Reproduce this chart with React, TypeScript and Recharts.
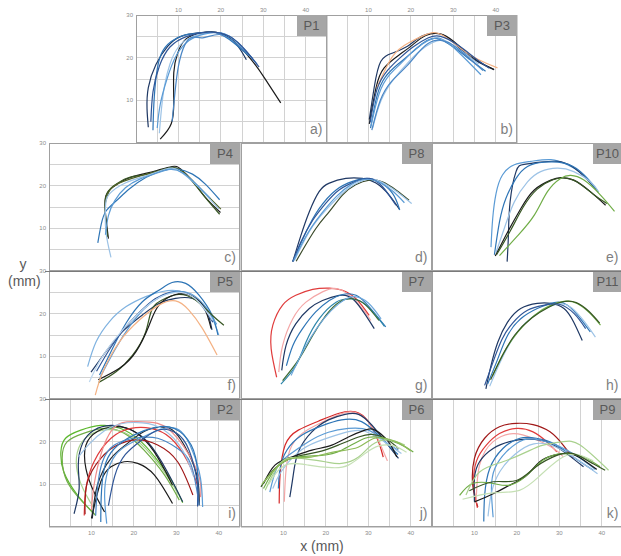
import { CartesianGrid, Line, LineChart, XAxis, YAxis } from 'recharts';

type Pt = [number, number];

const NAVY = '#1f3864';
const BLACK = '#1b1b1b';
const DBLUE = '#2f5597';
const BLUE = '#2e75b6';
const MBLUE = '#5b9bd5';
const LBLUE = '#9dc3e6';
const PBLUE = '#bdd7ee';
const DGREEN = '#375623';
const GREEN = '#70ad47';
const LGREEN = '#a9d18e';
const PGREEN = '#c5e0b4';
const RED = '#e03c3c';
const DRED = '#a01818';
const PINK = '#f4a6a6';
const SALMON = '#f4b183';

// P1
const p1Curves: Pt[][] = [
  [[2.9, 3.7], [2.6, 8], [2.9, 13], [4.7, 18.4], [7.5, 22.7], [10.6, 25], [14.6, 25.8], [17.7, 26], [20.9, 25.4], [24, 22.7], [26, 19.5]],
  [[5.7, 0.9], [8.3, 4.5], [8.9, 10], [8.9, 16.5], [9.8, 21], [11.8, 24.4], [15.4, 25.8], [18.5, 26], [22.4, 24.4], [27.2, 19.5], [30.3, 15.2], [34.1, 9.4]],
  [[4, 3], [4.2, 9], [4.8, 16], [6, 21], [8.3, 23.8], [11.4, 25.3], [15, 25.8], [19, 25.8], [23, 23.5], [26.5, 20.5]],
  [[5.5, 2.3], [6, 8], [6.7, 13.3], [8, 18.5], [10, 22.5], [13, 24.8], [17, 25.8], [21, 25.5], [25, 22.5], [28, 19]],
  [[5, 3.5], [5.7, 9], [7.3, 15], [9.5, 20.5], [12.5, 24], [16, 25.5], [20, 25.8], [24, 23.5], [28.5, 18.5]],
  [[8.5, 5], [9.2, 12], [10, 18], [11.5, 23], [13.5, 24.8], [16, 24.7], [20, 25.4], [24, 23], [27.5, 19.8]],
  [[3.5, 5], [4, 12], [5.5, 18], [8, 22.5], [12, 25], [17, 26], [22, 25], [26, 21.5], [29, 17.8]],
];
const p1Colors = [NAVY, BLACK, BLUE, LBLUE, MBLUE, '#4a86c5', DBLUE];

// P3
const p3Curves: Pt[][] = [
  [[10.2, 5.5], [11.4, 13.3], [12.9, 19.1], [15.7, 21.1], [19.2, 22.7], [21.2, 24.2], [23.5, 25.4], [26.7, 25.6], [29.8, 23.8], [33.7, 20.3], [39.6, 17.2]],
  [[10.2, 4.5], [11.8, 13], [13.7, 17.6], [17.3, 20.7], [20.4, 23], [23.5, 25.2], [27.5, 25.4], [31.4, 22.7], [35.3, 19.5], [39.6, 17.2]],
  [[12, 13], [15.7, 20.3], [19.5, 23.5], [23.5, 25.4], [27, 25.5], [32, 22], [36, 19.5], [40.4, 17.6]],
  [[10.5, 3.5], [12, 11], [14, 15.5], [17, 18.5], [20, 21], [23, 23.5], [26, 24.5], [30, 22.5], [34, 19.5], [37.6, 16.8]],
  [[10.6, 4], [12.5, 11.5], [15, 16], [18, 19], [21, 22], [24, 24], [27, 24.5], [31, 21.5], [36.5, 16]],
  [[11, 3.5], [13, 10], [16, 15], [19, 18.5], [22, 21.5], [25, 23.5], [28, 24], [32, 21.5], [36, 18.5]],
  [[10.4, 4.8], [12, 12.5], [14.5, 17], [17.5, 20], [20.5, 22.5], [24, 24.6], [27, 25], [31, 23], [35, 20], [38.5, 17.5]],
  [[10.8, 3], [12.8, 10], [15.5, 14.5], [19, 18], [22.5, 22], [25.5, 24], [29, 23.5], [33, 20.5], [37, 17]],
];
const p3Colors = [NAVY, BLACK, SALMON, BLUE, MBLUE, LBLUE, DBLUE, '#4a86c5'];

// P4
const p4Curves: Pt[][] = [
  [[14, 7.6], [13.4, 12.5], [13.3, 17.2], [15, 19.6], [18.1, 21.5], [22, 22.7], [25.2, 23.5], [29, 24.5], [31, 23.9], [33.8, 21.1], [36.9, 17.2], [40.4, 13.7]],
  [[13.8, 8], [13.3, 13], [13.4, 17.5], [15.2, 19.9], [18.5, 21.8], [22.2, 22.5], [25.5, 23.4], [28.8, 24.3], [31.2, 23.5], [34.2, 20.5], [37, 17], [40.2, 13.3]],
  [[13.3, 16], [14.5, 19.2], [17.5, 21], [21.5, 22.3], [25, 23.2], [28.5, 24.1], [31, 23.7], [34, 21], [37.2, 17.8], [40.5, 14.5]],
  [[11.5, 6.6], [12.3, 10.9], [13.4, 14], [15.8, 16.4], [18.9, 19.2], [22.8, 21.9], [26.7, 23.5], [30.2, 23.9], [33.8, 22.7], [36.9, 20.3], [40.2, 16.7]],
  [[14.6, 3.2], [13.4, 9.3], [13.3, 14.8], [14.2, 18], [18.1, 20.7], [22.8, 22.3], [27.5, 23.9], [30.6, 23.5], [35.3, 19.6], [40, 14.5]],
  [[13.3, 8.5], [14, 13], [15.5, 16.5], [18, 19.5], [21.5, 21.6], [25, 22.8], [28.5, 23.8], [31.5, 23], [34.5, 20.5], [38, 17]],
];
const p4Colors = [BLACK, DGREEN, '#4f6228', BLUE, LBLUE, MBLUE];

// P8
const p8Curves: Pt[][] = [
  [[12.2, 2.2], [14.1, 8.3], [16.1, 13.9], [18.4, 18.6], [20.8, 20.6], [24.7, 21.7], [28.6, 21.7], [31.8, 20.6], [34.9, 17.8], [37.3, 14.5]],
  [[12.2, 2.2], [15.3, 9.1], [18.4, 14.6], [22.4, 19], [26.3, 21], [29.4, 21.7], [32.5, 20.9], [35.7, 18.2], [37.4, 14.3]],
  [[13, 2.3], [17.6, 9.9], [20.8, 13.9], [23.9, 17.8], [27, 20.2], [30.2, 21.3], [33.3, 20.9], [36.5, 19], [39.6, 16.6]],
  [[12.6, 2.5], [16.9, 10.5], [21.6, 16], [25.5, 19.5], [30.2, 21.5], [34, 20.4], [37, 18.4], [40.2, 15.8]],
  [[12.2, 2.2], [14.1, 6.8], [16.9, 11.9], [20, 15.9], [23.1, 19], [27, 21], [30.2, 21.7], [33.3, 19.8], [36.5, 15.4]],
  [[12.4, 2.4], [15.5, 8.5], [19, 13.5], [22.5, 17.5], [26, 20.3], [29.5, 21.5], [33, 20.6], [36, 18.5], [38.5, 16]],
];
const p8Colors = [NAVY, BLUE, '#3a4a2a', LBLUE, DBLUE, MBLUE];

// P10
const p10Curves: Pt[][] = [
  [[13.9, 5.6], [14.3, 12.3], [15.1, 18.2], [16.6, 22.5], [19.4, 24.9], [23.3, 25.7], [28, 26.1], [31.9, 24.9], [35.8, 22.5], [38.9, 19]],
  [[17.7, 2.2], [18, 8.3], [18.4, 16.2], [19.8, 23.3], [21.7, 25], [25.6, 25.5], [29.5, 25.7], [33, 24.5], [36.5, 21.5], [39.2, 18.5]],
  [[14.7, 3.8], [15.9, 11.5], [17.4, 17], [19.8, 21.7], [22.5, 24.5], [26.4, 25.5], [31.1, 25.3], [35, 23.3], [38.5, 19.4]],
  [[15.1, 4.4], [17, 9.9], [19.4, 16.2], [22.5, 20.9], [25.6, 23.3], [29.5, 24.1], [33.4, 23.3], [37.3, 20.9], [39.3, 18.5]],
  [[14.9, 3.5], [17.8, 9.1], [20.9, 14.6], [24.1, 19], [28, 21.3], [30.3, 21.9], [33.4, 21.3], [37.3, 18.6], [40.9, 15.4]],
  [[15.2, 3.8], [18.5, 9.5], [21.5, 15], [24.8, 19.2], [28.5, 21.4], [31, 21.8], [34, 21], [38, 18], [41.2, 15.8]],
  [[15.9, 3.6], [20.2, 8.3], [24.1, 13.1], [27.2, 18.6], [30.3, 21.7], [32.7, 22.4], [35.8, 21.3], [39.7, 17.8], [43, 14]],
];
const p10Colors = [MBLUE, NAVY, BLUE, LBLUE, BLACK, DGREEN, GREEN];

// P5
const p5Curves: Pt[][] = [
  [[9.1, 7.6], [11.1, 13.4], [14.2, 18.1], [18.1, 21.6], [22.8, 24], [26.7, 25.2], [30.6, 25.3], [34.5, 23.6], [37.7, 20.5], [40, 15]],
  [[9.9, 6.3], [13.4, 11.1], [17.3, 15.8], [22, 19.7], [25.9, 22.4], [29.8, 23.6], [33.8, 23.6], [36.9, 21.3], [38.4, 16.2]],
  [[11.9, 5.6], [15, 11.9], [18.1, 17.7], [22, 22.8], [25.9, 25.5], [29, 27.3], [32.2, 27.1], [35.3, 24.4], [38.4, 19.7], [39.8, 15]],
  [[11.2, 6.5], [14.5, 12], [18, 16.8], [21.5, 20.5], [25, 23.5], [28.5, 25], [32, 25], [35.5, 22.5], [38.6, 18]],
  [[12, 5], [15.5, 11.5], [19, 17], [22.5, 21.2], [26, 23.8], [30, 25.2], [33.5, 24.6], [36.5, 22], [39.5, 17.5]],
  [[11.7, 3.9], [15.8, 6.4], [19.7, 10.3], [22.8, 15.8], [24.4, 21.3], [27.5, 23.6], [30.6, 24.5], [34.5, 23.2], [38.4, 19.7], [41.2, 17.3]],
  [[11.6, 4.5], [16.6, 7.2], [20.5, 11.1], [23.6, 17.3], [25.9, 22], [29.8, 24.5], [33.5, 24.2], [36.5, 21.5], [38.2, 16.5]],
  [[10.9, 0.9], [12.7, 6.4], [16.6, 13.4], [21.3, 18.5], [25.9, 22], [29.8, 23], [32.9, 20.9], [36.1, 16.6], [39.6, 10.3]],
  [[9.5, 4], [12, 9], [15.5, 14], [19.5, 18.5], [24, 22.5], [28, 24.6], [32, 24.8], [35.5, 22.5], [38.5, 18.5]],
];
const p5Colors = ['#7fb2e0', NAVY, BLUE, DBLUE, MBLUE, DGREEN, BLACK, SALMON, PBLUE];

// P7
const p7Curves: Pt[][] = [
  [[8.4, 5.1], [7.1, 11.8], [7.5, 17.3], [9.8, 22], [12.9, 24.3], [16.9, 25.7], [20.8, 26], [23.9, 25.5], [27.1, 23.5], [30.2, 19.6]],
  [[8.9, 6.3], [9.8, 12.5], [12.2, 18.8], [15.3, 22.7], [19.2, 25.1], [22.4, 25.9], [25.5, 24.3], [28.6, 21.2], [30.6, 18.4]],
  [[9.6, 6.7], [10.6, 12.5], [12.9, 17.6], [16.1, 21.2], [19.2, 23.1], [23.1, 24.3], [26.3, 23.5], [29.4, 19.6], [31.4, 16.5]],
  [[10.7, 7.8], [12.2, 12.5], [14.5, 16.5], [17.6, 20.4], [20.8, 23.1], [23.9, 24.5], [27.1, 24.3], [30.2, 21.6], [34.1, 16.9]],
  [[9.4, 3.5], [12.9, 7.8], [15.3, 13.3], [18.4, 18.8], [22.4, 22.7], [25.5, 23.5], [28.6, 22.7], [31.8, 19.6], [33.8, 17]],
  [[9.8, 4.3], [13.7, 9.4], [16.9, 14.9], [20, 19.6], [23.1, 22.7], [26.3, 23.5], [29.4, 22], [32.5, 18.4]],
  [[11.8, 5.5], [14, 10], [16.5, 14.5], [19.5, 18.8], [23, 22.3], [26.5, 24], [30, 22.5], [33, 18.8]],
];
const p7Colors = [RED, PINK, NAVY, BLUE, '#2e86ab', '#3d6b35', '#6fa8dc'];

// P11
const p11Curves: Pt[][] = [
  [[12.7, 2.4], [13.9, 7.8], [15.5, 13.3], [17.8, 18], [20.9, 21.2], [24.8, 22.4], [28, 22.4], [31.1, 21.2], [33.4, 18], [35.4, 13.7]],
  [[13.1, 3.5], [15.5, 9.4], [17.8, 14.9], [20.9, 18.8], [24.8, 21.2], [28.8, 22.6], [31.9, 22], [35, 18.8], [37.3, 15.7]],
  [[13.6, 3], [16, 8.5], [18.8, 13.8], [22, 17.8], [26, 20.8], [29.8, 22.3], [33, 21.3], [36, 18], [38.5, 14.5]],
  [[14.3, 5.5], [17, 11], [20.2, 15.7], [24.1, 19.6], [28, 22], [31.1, 22.9], [34.2, 22.4], [37.3, 20], [39.7, 17.3]],
  [[13.8, 4.5], [16.5, 10], [19.5, 15], [23.5, 19], [27.5, 21.5], [30.8, 22.8], [34, 22.6], [37, 20.5], [39.5, 17.8]],
  [[12.4, 3.2], [14.5, 9], [16.5, 14], [19, 17.8], [22.5, 20.8], [26.5, 22], [30, 22.2], [33.5, 20], [36.2, 16.5]],
];
const p11Colors = [NAVY, BLUE, LBLUE, GREEN, DGREEN, DBLUE];

// P2
const p2Curves: Pt[][] = [
  [[10.6, 3.1], [6.7, 7.5], [3.5, 12.9], [2.8, 17.6], [3.9, 20.8], [7.5, 22.7], [12.2, 23.8], [16.9, 23.1], [21.7, 20], [26.4, 14.5], [29.5, 9.8], [31.5, 5.7]],
  [[11, 2.7], [7.9, 5.9], [4.3, 10.6], [3.1, 16.1], [4.3, 20], [8.3, 22], [13, 23.1], [17.7, 22], [22.4, 18], [27.2, 12.2], [30.7, 6.3]],
  [[10.5, 4.5], [8, 9], [6.5, 14], [7, 18.5], [9.5, 21.5], [14, 22.8], [19, 21.5], [24, 17], [28.5, 11], [30.5, 7.5]],
  [[5.9, 3.1], [7.1, 9], [6.9, 14.5], [7.9, 19.6], [10.6, 22.7], [14.6, 23.8], [18.5, 23.1], [23.2, 20], [27.9, 12.9], [31.5, 5.9]],
  [[13.1, 3.5], [10.6, 8.2], [8.7, 13.7], [8.7, 19.2], [11.4, 22.4], [15.4, 23.5], [20.1, 22.4], [24.8, 17.6], [29.1, 9.8]],
  [[10, 2], [12.2, 10.6], [14.6, 14.1], [17.7, 15.3], [20.9, 14.9], [24.8, 12.2], [29.1, 5.5]],
  [[10.2, 2], [11.4, 9.8], [14.6, 16.1], [18.5, 19.6], [22.4, 22.4], [26.4, 23.4], [29.5, 22.4], [32.7, 17.6], [35, 11.4], [35.4, 5.1]],
  [[8.3, 2.7], [8.7, 9], [10.6, 15.3], [14.6, 20.8], [19.3, 23.1], [24, 23.1], [28.7, 20.8], [32.7, 15.3], [35, 9.8]],
  [[8.5, 3], [9, 10.4], [12.2, 16.1], [16.1, 19.2], [20.9, 20.4], [25.6, 19.2], [30.3, 15.3], [33.9, 7.5]],
  [[10, 4], [11, 12], [14.6, 22.4], [20.1, 24.7], [25.6, 24.3], [30.3, 20.8], [35, 12.9], [35.7, 7]],
  [[13.6, 0.8], [13.1, 7.5], [13.8, 12.9], [15.7, 16.9], [18.5, 19.2], [22.4, 21.2], [27.2, 23.1], [31.1, 22.4], [33.9, 17.6], [35.7, 11.4], [36.2, 4.7]],
  [[12.2, 1.2], [12.3, 7], [13, 13.7], [15.4, 18.4], [20.1, 21.6], [24.8, 23.3], [29.5, 23.1], [33.5, 19.2], [35, 12.9], [35, 5.1]],
  [[11, 2.7], [11.4, 9], [12.6, 15.3], [15.4, 19.2], [20.1, 20.8], [25.6, 20.8], [30.3, 18.4], [33.5, 14.5], [35.4, 5.1]],
  [[7, 16.5], [9.5, 19.5], [13, 22.5], [17, 24.2], [22, 24.4], [27, 22.8], [31.5, 18], [34, 12]],
  [[14, 5], [15.5, 12], [18, 17], [22, 20.5], [26, 22.8], [30, 22], [33, 18], [35, 10], [35, 4.8]],
];
const p2Colors = ['#5cb82e', GREEN, LGREEN, NAVY, BLACK, BLACK, '#222a35', RED, DRED, '#f08c8c', MBLUE, BLUE, '#4a86c5', LBLUE, DBLUE];

// P6
const p6Curves: Pt[][] = [
  [[9, 5.5], [9.2, 12.1], [10.4, 19.2], [13.5, 22.7], [18.2, 24.8], [22.9, 26.6], [26.9, 27], [30, 24.7], [32.4, 20], [33.5, 16.4]],
  [[10.2, 5.9], [10.5, 12], [11.5, 18], [14.5, 22], [19, 24.5], [23.5, 26.5], [27, 26.8], [30.5, 24], [33, 19], [34.5, 15.5]],
  [[11.5, 7], [12.3, 12.1], [13.5, 17.6], [16.7, 22.3], [20.6, 25.1], [24.5, 26.4], [27.7, 26.4], [30.8, 23.9], [34, 20], [37.1, 16.1]],
  [[8.8, 9], [9.2, 13.7], [10.8, 18], [14.3, 21.5], [19, 23.7], [23.7, 25.1], [28.4, 24.7], [32.4, 21.5], [35.5, 18.4], [37, 17]],
  [[6.8, 8.2], [8.4, 13.7], [11.2, 16.8], [15.9, 20], [20.6, 22.2], [25.3, 23.1], [30, 22.7], [34, 20], [37.1, 18]],
  [[7.5, 9], [9.5, 13], [13.5, 17.5], [18, 20], [24, 22], [29, 22.5], [34, 19.8], [37.8, 17.2]],
  [[5.3, 10.2], [8, 14.5], [11.9, 16.4], [16.7, 18], [21.4, 19.2], [25.3, 21.1], [29.2, 22.7], [31.6, 22.7], [34.7, 20], [36.7, 16.4]],
  [[4.7, 9.4], [8, 13.7], [12.7, 16.4], [18.2, 17.6], [22.9, 19.2], [27.7, 21.1], [30.8, 21.7], [34, 20.8], [37.1, 18.4]],
  [[5.3, 9], [8.8, 14.5], [13.5, 16.4], [19, 16.8], [23.7, 18], [29.2, 20.8], [33.1, 20.9], [37.1, 19.6], [40.6, 17.6]],
  [[5.7, 8.6], [9.6, 15.3], [14.3, 16.1], [19.8, 15.3], [23.7, 14.9], [27.7, 16.4], [30.8, 19.2], [34.7, 20.4], [38.6, 19.2]],
  [[6.5, 10], [10.4, 14.5], [15.9, 14.5], [21.4, 13.9], [25.3, 14.5], [29.2, 17.2], [32.5, 19], [36, 19], [39, 17.5]],
  [[4.9, 10], [10.4, 15.5], [15.9, 16.3], [21.4, 17.5], [27.6, 18.7], [31.5, 20.8], [36.5, 20], [40, 17.8]],
];
const p6Colors = ['#d62828', PINK, NAVY, BLUE, MBLUE, LBLUE, BLACK, DGREEN, GREEN, LGREEN, PGREEN, '#8fbc5a'];

// P9
const p9Curves: Pt[][] = [
  [[10.8, 4.7], [9.6, 9.8], [10, 16.1], [12.4, 20.8], [15.9, 23.5], [19.9, 24.3], [23.8, 24], [27.8, 22.3], [30.9, 19.2], [33.3, 16.1]],
  [[10.7, 4.5], [9.8, 10], [10.5, 15.5], [12.8, 19.2], [15.9, 21.9], [19.9, 23.1], [23.8, 22.3], [27, 20], [29.4, 17.6]],
  [[10.4, 5.7], [11.2, 14.5], [14.4, 20], [19.1, 21.9], [23.8, 20.8], [28.5, 18.5], [30.9, 16.5]],
  [[10, 5.9], [10, 11.4], [11.2, 15.3], [14.4, 18.4], [18.3, 20], [22.3, 20.6], [27, 20], [31.7, 17.2], [35.7, 14.1]],
  [[12.2, 1.3], [12.4, 7.4], [13.6, 13.7], [16.7, 18.4], [20.7, 20.8], [24.6, 20.8], [28.6, 19.6], [33.3, 16.4], [38, 13.3]],
  [[14.4, 2.3], [14, 9], [14.8, 13.7], [17.5, 17.6], [21.5, 20.4], [25.4, 20.4], [30.2, 18.8], [34.9, 16.1], [38.5, 13.5]],
  [[13.2, 2.5], [14, 8], [16, 13], [19.5, 17], [24, 19.5], [29, 18.8], [34, 16], [39, 12.5]],
  [[10, 5.9], [14.4, 7.8], [19.1, 10.2], [22.3, 12.1], [25.4, 15.3], [28.6, 16.8], [32.5, 17.2], [35.7, 15.7], [38.8, 13.5]],
  [[6.5, 7.4], [9.6, 10.2], [14.4, 10.2], [18.3, 9.8], [22.3, 12.1], [26.2, 15.7], [30.9, 17.2], [35.7, 16.4], [39.6, 14.1]],
  [[8, 7.5], [11.2, 12.9], [16.7, 15.3], [22.3, 17.6], [26.2, 19.2], [30.9, 20], [34.9, 19.2], [41.6, 13.3]],
  [[7.2, 6.5], [14.4, 8], [20.6, 8.6], [25.4, 12], [30.2, 16], [34, 17], [38, 15.5]],
  [[8.8, 8.5], [14.4, 10.6], [19.9, 10.9], [24.6, 14.2], [29.4, 16.8], [33.3, 17.2], [38, 14.8], [40.8, 13.3]],
];
const p9Colors = [DRED, RED, PINK, NAVY, BLUE, MBLUE, LBLUE, BLACK, GREEN, LGREEN, PGREEN, DGREEN];

const xTicks = [0, 5, 10, 15, 20, 25, 30, 35, 40, 45];
const yTicks = [0, 5, 10, 15, 20, 25, 30];

const PW = 191;
const PH = 128;
const M = 16;
const GRID = '#d2d2d2';

const fmt = (v: number) => (v > 0 && v % 10 === 0 ? String(v) : '');
const tickStyle = { fontSize: 6, fill: '#8c8c8c', fontFamily: 'Liberation Sans, Arial, sans-serif' };

interface PanelProps {
  x: number;
  y: number;
  name: string;
  letter: string;
  curves: Pt[][];
  colors: string[];
  topTicks?: boolean;
  leftTicks?: boolean;
  bottomTicks?: boolean;
}

function Panel({ x, y, name, letter, curves, colors, topTicks, leftTicks, bottomTicks }: PanelProps) {
  // axes take 1px each, so the margins are trimmed by one to keep the plot box at (x, y)
  const margin = {
    top: topTicks ? M - 1 : M,
    bottom: topTicks ? M : M - 1,
    left: M - 1,
    right: M,
  };
  return (
    <>
      <div style={{ position: 'absolute', left: x - M, top: y - M }}>
        <LineChart width={PW + 2 * M} height={PH + 2 * M} margin={margin}>
          <CartesianGrid stroke={GRID} strokeWidth={1} shapeRendering="crispEdges" />
          <XAxis
            type="number"
            dataKey="x"
            domain={[0, 45]}
            ticks={xTicks}
            interval={0}
            allowDataOverflow
            orientation={topTicks ? 'top' : 'bottom'}
            height={1}
            axisLine={false}
            tickLine={false}
            tickSize={0}
            tickMargin={topTicks ? 3 : 4}
            tick={topTicks || bottomTicks ? tickStyle : false}
            tickFormatter={fmt}
          />
          <YAxis
            type="number"
            domain={[0, 30]}
            ticks={yTicks}
            interval={0}
            allowDataOverflow
            width={1}
            axisLine={false}
            tickLine={false}
            tickSize={0}
            tickMargin={3}
            tick={leftTicks ? tickStyle : false}
            tickFormatter={fmt}
          />
          {curves.map((c, i) => (
            <Line
              key={i}
              data={c.map(([px, py]) => ({ x: px, y: py }))}
              dataKey="y"
              type="natural"
              stroke={colors[i]}
              strokeWidth={1.2}
              dot={false}
              isAnimationActive={false}
            />
          ))}
        </LineChart>
      </div>
      <div
        style={{
          position: 'absolute',
          left: x,
          top: y,
          width: PW,
          height: PH,
          border: '1px solid #a0a0a0',
          boxSizing: 'border-box',
          pointerEvents: 'none',
        }}
      />
      <div
        style={{
          position: 'absolute',
          left: x + PW - 30,
          top: y,
          width: 30,
          height: 21,
          background: '#a6a6a6',
          color: '#595959',
          fontSize: 13,
          lineHeight: '21px',
          textAlign: 'center',
        }}
      >
        {name}
      </div>
      <div
        style={{
          position: 'absolute',
          left: x + PW - 30,
          top: y + PH - 22,
          width: 26,
          textAlign: 'right',
          color: '#7f7f7f',
          fontSize: 14,
        }}
      >
        {letter}
      </div>
    </>
  );
}

export default function App() {
  const c1 = 49;
  const c2 = 240.5;
  const c3 = 431.5;
  return (
    <div
      style={{
        position: 'absolute',
        left: 0,
        top: 0,
        width: 621,
        height: 556,
        overflow: 'hidden',
        background: '#fff',
        fontFamily: 'Liberation Sans, Arial, sans-serif',
      }}
    >
      <Panel x={135.5} y={15} name="P1" letter="a)" curves={p1Curves} colors={p1Colors} topTicks leftTicks />
      <Panel x={326} y={15} name="P3" letter="b)" curves={p3Curves} colors={p3Colors} topTicks />
      <Panel x={c1} y={143} name="P4" letter="c)" curves={p4Curves} colors={p4Colors} leftTicks />
      <Panel x={c2} y={143} name="P8" letter="d)" curves={p8Curves} colors={p8Colors} />
      <Panel x={c3} y={143} name="P10" letter="e)" curves={p10Curves} colors={p10Colors} />
      <Panel x={c1} y={271} name="P5" letter="f)" curves={p5Curves} colors={p5Colors} leftTicks />
      <Panel x={c2} y={271} name="P7" letter="g)" curves={p7Curves} colors={p7Colors} />
      <Panel x={c3} y={271} name="P11" letter="h)" curves={p11Curves} colors={p11Colors} />
      <Panel x={c1} y={399} name="P2" letter="i)" curves={p2Curves} colors={p2Colors} leftTicks bottomTicks />
      <Panel x={c2} y={399} name="P6" letter="j)" curves={p6Curves} colors={p6Colors} bottomTicks />
      <Panel x={c3} y={399} name="P9" letter="k)" curves={p9Curves} colors={p9Colors} bottomTicks />
      <div style={{ position: 'absolute', left: 45, top: 270.5, width: 576, height: 1, background: '#7a7a7a' }} />
      <div style={{ position: 'absolute', left: 45, top: 398.5, width: 576, height: 1, background: '#7a7a7a' }} />
      <div style={{ position: 'absolute', left: 8, top: 256, width: 30, textAlign: 'center', color: '#595959', fontSize: 14, lineHeight: '17px' }}>
        y
        <br />
        (mm)
      </div>
      <div style={{ position: 'absolute', left: 282, top: 538, width: 80, textAlign: 'center', color: '#595959', fontSize: 14 }}>
        x (mm)
      </div>
    </div>
  );
}
